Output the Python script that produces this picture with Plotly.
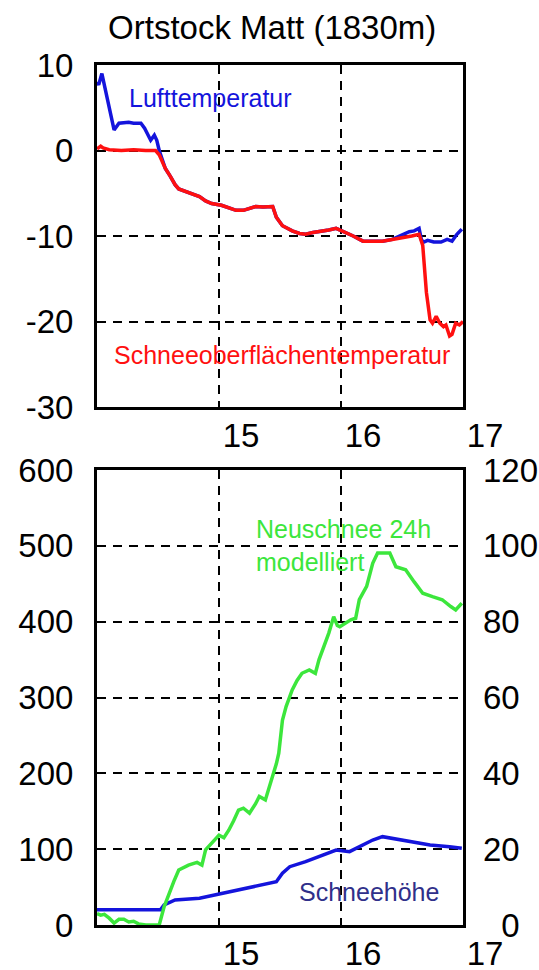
import plotly.graph_objects as go

# ---------------- data ----------------
# Top panel: temperatures (°C) vs day
air_day = [14.00, 14.014, 14.04, 14.07, 14.10, 14.14, 14.18, 14.22, 14.26, 14.30, 14.36, 14.39,
           14.43, 14.44, 14.47, 14.49, 14.51, 14.56, 14.60, 14.64, 14.67, 14.71, 14.75, 14.80,
           14.84, 14.89, 14.94, 15.02, 15.08, 15.14, 15.20, 15.25, 15.30, 15.36, 15.44, 15.47,
           15.52, 15.56, 15.60, 15.66, 15.71, 15.77, 15.82, 15.90, 15.96, 16.01, 16.06, 16.10,
           16.18, 16.26, 16.34, 16.42, 16.51, 16.56, 16.60, 16.64, 16.66, 16.68, 16.71, 16.76,
           16.82, 16.87, 16.91, 16.95, 16.99]
air_temp = [8.0, 7.7, 9.0, 7.1, 4.9, 2.4, 3.2, 3.3, 3.3, 3.2, 3.2, 2.6,
            1.6, 1.2, 1.8, 1.2, 0.0, -2.1, -3.0, -4.0, -4.5, -4.7, -4.9, -5.2,
            -5.4, -5.9, -6.2, -6.4, -6.7, -7.0, -7.0, -6.8, -6.55, -6.6, -6.55, -7.8,
            -8.8, -9.1, -9.4, -9.7, -9.8, -9.6, -9.5, -9.3, -9.1, -9.4, -9.7, -10.0,
            -10.6, -10.6, -10.6, -10.4, -9.8, -9.5, -9.4, -9.1, -10.5, -10.7, -10.5, -10.7,
            -10.7, -10.4, -10.6, -9.8, -9.2]

surf_day = [14.00, 14.03, 14.05, 14.10, 14.20, 14.30, 14.40, 14.48, 14.51, 14.56, 14.60, 14.64,
            14.67, 14.71, 14.75, 14.80, 14.84, 14.89, 14.94, 15.02, 15.08, 15.14, 15.20, 15.25,
            15.30, 15.36, 15.44, 15.47, 15.52, 15.56, 15.60, 15.66, 15.71, 15.77, 15.82, 15.90,
            15.96, 16.01, 16.06, 16.10, 16.18, 16.26, 16.34, 16.42, 16.51, 16.58, 16.64, 16.67,
            16.70, 16.72, 16.73, 16.75, 16.78, 16.81, 16.84, 16.86, 16.89, 16.91, 16.94, 16.97, 17.00]
surf_temp = [0.2, 0.5, 0.3, 0.1, 0.0, 0.1, 0.0, 0.0, -0.5, -2.1, -3.0, -4.0,
             -4.5, -4.7, -4.9, -5.2, -5.4, -5.9, -6.2, -6.4, -6.7, -7.0, -7.0, -6.8,
             -6.55, -6.6, -6.55, -7.8, -8.8, -9.1, -9.4, -9.7, -9.8, -9.6, -9.5, -9.3,
             -9.1, -9.4, -9.7, -10.0, -10.6, -10.6, -10.6, -10.4, -10.2, -10.0, -9.8, -11.1,
             -16.6, -18.6, -19.8, -20.2, -19.4, -20.2, -20.6, -20.4, -21.7, -21.5, -20.2, -20.4, -20.0]

# Bottom panel: snow depth (left axis, cm) and modelled 24h new snow (right axis, cm)
depth_day = [14.00, 14.52, 14.55, 14.64, 14.84, 15.03, 15.16, 15.36, 15.47, 15.52, 15.58, 15.71,
             15.85, 15.96, 16.07, 16.15, 16.26, 16.34, 16.42, 16.56, 16.73, 16.89, 16.99]
depth_cm = [20, 20, 26.4, 33, 35.2, 41.8, 46.2, 52.8, 57.1, 68.2, 76.9, 83.5,
            92.3, 98.9, 96.7, 103.3, 112.1, 116.5, 114.4, 109.9, 105.5, 103.3, 101.2]

new_day = [14.00, 14.03, 14.06, 14.10, 14.14, 14.18, 14.22, 14.26, 14.30, 14.34, 14.40, 14.48,
           14.51, 14.55, 14.59, 14.63, 14.67, 14.75, 14.82, 14.86, 14.89, 14.94, 15.00, 15.04,
           15.08, 15.12, 15.16, 15.20, 15.25, 15.30, 15.33, 15.38, 15.41, 15.44, 15.47, 15.49,
           15.52, 15.55, 15.60, 15.64, 15.68, 15.74, 15.79, 15.82, 15.85, 15.90, 15.94, 15.97,
           15.99, 16.04, 16.08, 16.12, 16.15, 16.21, 16.26, 16.30, 16.40, 16.45, 16.53, 16.60,
           16.67, 16.75, 16.83, 16.90, 16.94, 16.99]
new_cm = [3.0, 2.6, 2.8, 1.8, 0.5, 1.5, 1.5, 0.8, 1.0, 0.3, 0.0, 0.0,
          0.0, 4.8, 8.4, 11.5, 14.5, 15.8, 16.5, 15.8, 19.8, 21.5, 23.7, 23.0,
          25.0, 27.5, 30.3, 30.8, 29.5, 32.0, 33.9, 33.0, 36.0, 39.0, 42.5, 45.3,
          54.0, 57.6, 62.0, 64.5, 66.4, 67.3, 66.4, 70.0, 72.6, 77.0, 81.3, 79.0,
          78.7, 79.6, 80.5, 80.9, 85.8, 89.3, 95.4, 98.1, 98.1, 94.5, 93.7, 90.5,
          87.5, 86.6, 85.8, 84.0, 83.1, 84.9]

x_ticks = [15, 16, 17]
temp_ticks = [10, 0, -10, -20, -30]
temp_labels = ["10", "0", "-10", "-20", "-30"]
depth_ticks = [0, 100, 200, 300, 400, 500, 600]
new_ticks = [0, 20, 40, 60, 80, 100, 120]
new_labels = ["\u20070", "20", "40", "60", "80", "100", "120"]

# ---------------- styling ----------------
FONT = "Liberation Sans, Arial, Helvetica, sans-serif"
BLUE = "#1414dc"
RED = "#ff1010"
GREEN = "#3ce63c"
NAVY = "#30308a"
TICK_SIZE = 33
GRID = dict(showgrid=True, gridcolor="black", gridwidth=2, griddash="9px,7px",
            zeroline=False, showline=True, linecolor="black", linewidth=3,
            ticks="", automargin=False,
            tickfont=dict(family=FONT, size=TICK_SIZE, color="black"))

fig = go.Figure()
fig.add_trace(go.Scatter(x=air_day, y=air_temp, mode="lines", line=dict(color=BLUE, width=3.5),
                         xaxis="x", yaxis="y", name="Lufttemperatur"))
fig.add_trace(go.Scatter(x=surf_day, y=surf_temp, mode="lines", line=dict(color=RED, width=3.5),
                         xaxis="x", yaxis="y", name="Schneeoberflächentemperatur"))
fig.add_trace(go.Scatter(x=depth_day, y=depth_cm, mode="lines", line=dict(color=BLUE, width=3.5),
                         xaxis="x2", yaxis="y2", name="Schneehöhe"))
fig.add_trace(go.Scatter(x=new_day, y=new_cm, mode="lines", line=dict(color=GREEN, width=3.5),
                         xaxis="x2", yaxis="y3", name="Neuschnee 24h modelliert"))

top_dom = [0.6023, 1.0]
bot_dom = [0.0, 0.529]

fig.update_layout(
    width=539, height=970,
    margin=dict(l=97, r=76, t=65, b=45, autoexpand=False),
    paper_bgcolor="white", plot_bgcolor="white",
    showlegend=False,
    font=dict(family=FONT, color="black"),
    title=dict(text="Ortstock Matt (1830m)", x=0.505, xanchor="center",
               y=1 - 27 / 970, yanchor="middle", yref="container",
               font=dict(family=FONT, size=33, color="black")),
    xaxis=dict(domain=[0, 1], anchor="y", range=[14, 17], tickvals=x_ticks,
               ticktext=[str(v) for v in x_ticks], mirror=True, ticklabelshift=22,
               ticklabelstandoff=-3, ticklabeloverflow="allow", **GRID),
    yaxis=dict(domain=top_dom, anchor="x", range=[-30, 10], tickvals=temp_ticks,
               ticktext=temp_labels, mirror=True, ticklabelstandoff=14, **GRID),
    xaxis2=dict(domain=[0, 1], anchor="y2", range=[14, 17], tickvals=x_ticks,
                ticktext=[str(v) for v in x_ticks], mirror=True, ticklabelshift=22,
                ticklabelstandoff=-3, ticklabeloverflow="allow", **GRID),
    yaxis2=dict(domain=bot_dom, anchor="x2", range=[0, 600], tickvals=depth_ticks,
                mirror=True, ticklabelstandoff=14, **GRID),
    yaxis3=dict(overlaying="y2", side="right", anchor="x2", range=[0, 120], tickvals=new_ticks,
                ticktext=new_labels,
                showgrid=False, zeroline=False, showline=False, ticks="", ticklabelstandoff=19,
                automargin=False, tickfont=dict(family=FONT, size=TICK_SIZE, color="black")),
    annotations=[
        dict(text="Lufttemperatur", x=14.244, y=6.1, xref="x", yref="y", xanchor="left",
             yanchor="middle", showarrow=False, font=dict(family=FONT, size=25, color=BLUE)),
        dict(text="Schneeoberflächentemperatur", x=14.12, y=-23.9, xref="x", yref="y",
             xanchor="left", yanchor="middle", showarrow=False,
             font=dict(family=FONT, size=25, color=RED)),
        dict(text="Neuschnee 24h<br>modelliert", x=15.29, y=500, xref="x2", yref="y2",
             xanchor="left", yanchor="middle", align="left", showarrow=False,
             font=dict(family=FONT, size=25, color=GREEN)),
        dict(text="Schneehöhe", x=15.64, y=43.5, xref="x2", yref="y2", xanchor="left",
             yanchor="middle", showarrow=False, font=dict(family=FONT, size=25, color=NAVY)),
    ],
)

fig.write_html("out.html", config={"displayModeBar": False},
               post_script="document.body.style.margin='0';document.body.style.padding='0';")
